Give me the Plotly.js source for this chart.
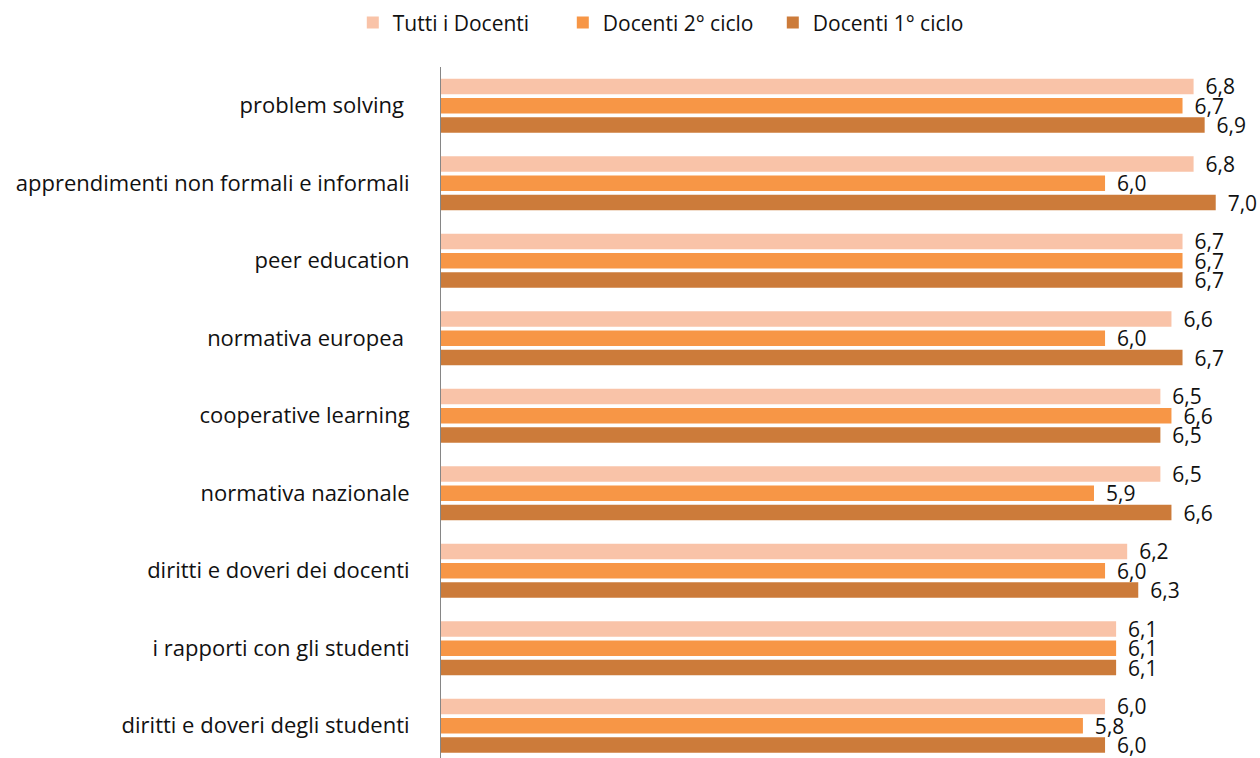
<!DOCTYPE html>
<html>
<head>
<meta charset="utf-8">
<script src="https://cdn.plot.ly/plotly-3.0.1.min.js"></script>
<style>html,body{margin:0;padding:0;background:#fff;}#chart{width:1260px;height:758px;}</style>
</head>
<body>
<div id="chart"></div>
<script>
const categories = [
  "problem solving\u00a0",
  "apprendimenti non formali e informali",
  "peer education",
  "normativa europea\u00a0",
  "cooperative learning",
  "normativa nazionale",
  "diritti e doveri dei docenti",
  "i rapporti con gli studenti",
  "diritti e doveri degli studenti"
];
const seriesNames = ["Tutti i Docenti", "Docenti 2° ciclo", "Docenti 1° ciclo"];
const tuttiDocenti = [6.8, 6.8, 6.7, 6.6, 6.5, 6.5, 6.2, 6.1, 6.0];
const docenti2Ciclo = [6.7, 6.0, 6.7, 6.0, 6.6, 5.9, 6.0, 6.1, 5.8];
const docenti1Ciclo = [6.9, 7.0, 6.7, 6.7, 6.5, 6.6, 6.3, 6.1, 6.0];
const colors = ["#F9C3A8", "#F79646", "#CC7B3A"];

const fontFamily = "'Open Sans', 'DejaVu Sans', sans-serif";
const seriesValues = [tuttiDocenti, docenti2Ciclo, docenti1Ciclo];

const traces = seriesValues.map((vals, i) => ({
  type: "bar",
  orientation: "h",
  name: seriesNames[i],
  y: categories,
  x: vals,
  marker: {color: colors[i]},
  texttemplate: "\u00a0\u2009%{x:.1f}",
  textposition: "outside",
  constraintext: "none",
  cliponaxis: false,
  textfont: {family: fontFamily, size: 21, color: "#111"},
  hoverinfo: "skip"
}));

const layout = {
  width: 1260,
  height: 758,
  margin: {l: 441, r: 0, t: 67, b: 0, pad: 0},
  paper_bgcolor: "#fff",
  plot_bgcolor: "#fff",
  separators: ", ",
  barmode: "group",
  bargap: 0.253,
  bargroupgap: 0.2,
  font: {family: fontFamily, size: 22, color: "#111"},
  showlegend: true,
  legend: {
    orientation: "h",
    xref: "container",
    yref: "container",
    x: 0.28,
    xanchor: "left",
    y: 0.997,
    yanchor: "top",
    entrywidth: 165,
    entrywidthmode: "pixels",
    font: {family: fontFamily, size: 21, color: "#111"},
    traceorder: "normal"
  },
  xaxis: {
    range: [0, 7.4],
    showgrid: false,
    zeroline: false,
    showline: false,
    showticklabels: false,
    ticks: ""
  },
  yaxis: {
    type: "category",
    range: [8.416, -0.5],
    showgrid: false,
    zeroline: false,
    showline: true,
    linecolor: "#868686",
    linewidth: 1,
    ticks: "",
    ticklabelstandoff: 26,
    tickfont: {family: fontFamily, size: 22, color: "#111"}
  }
};

Plotly.newPlot("chart", traces, layout, {displayModeBar: false, staticPlot: true});
</script>
</body>
</html>
